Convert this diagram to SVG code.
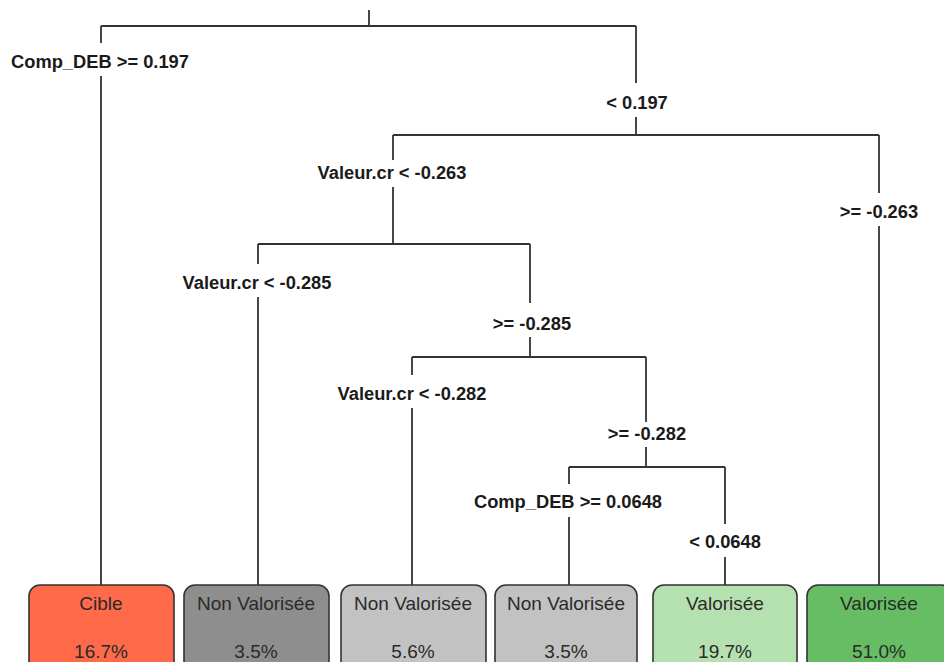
<svg xmlns="http://www.w3.org/2000/svg" width="944" height="662" viewBox="0 0 944 662">
<style>
.e{stroke:#333;stroke-width:1.8;fill:none}
.lbl{font-family:"Liberation Sans",Arial,sans-serif;font-weight:bold;font-size:18.3px;fill:#1a1a1a;text-anchor:middle}
.leaf rect{stroke:#333;stroke-width:1.6}
.leaf text{font-family:"Liberation Sans",Arial,sans-serif;font-size:19px;fill:#2a2a2a;text-anchor:middle}
</style>
<rect width="944" height="662" fill="#fff"/>
<g id="connectors">
<path class="e" d="M369 10V26M101 26H636"/>
<path class="e" d="M101 26V43M101 76V585"/>
<path class="e" d="M636 26V83M636 117V135M393 135H879"/>
<path class="e" d="M879 135V193M879 226V585"/>
<path class="e" d="M393 135V160M393 187V244M258 244H530"/>
<path class="e" d="M258 244V264M258 297V585"/>
<path class="e" d="M530 244V303M530 337V357M412 357H646"/>
<path class="e" d="M412 357V375M412 408V585"/>
<path class="e" d="M646 357V422M646 447V467M569 467H725"/>
<path class="e" d="M569 467V484M569 517V585"/>
<path class="e" d="M725 467V524M725 557V585"/>
</g>
<g id="labels">
<text class="lbl" x="100" y="68">Comp_DEB &gt;= 0.197</text>
<text class="lbl" x="637" y="109">&lt; 0.197</text>
<text class="lbl" x="392" y="179">Valeur.cr &lt; -0.263</text>
<text class="lbl" x="879" y="218">&gt;= -0.263</text>
<text class="lbl" x="257" y="289">Valeur.cr &lt; -0.285</text>
<text class="lbl" x="532" y="330">&gt;= -0.285</text>
<text class="lbl" x="412" y="400">Valeur.cr &lt; -0.282</text>
<text class="lbl" x="647" y="440">&gt;= -0.282</text>
<text class="lbl" x="568" y="508">Comp_DEB &gt;= 0.0648</text>
<text class="lbl" x="725" y="548">&lt; 0.0648</text>
</g>
<g id="leaf1" class="leaf"><rect x="29" y="585" width="145" height="95" rx="11" fill="#FF6A4B"/><text x="101" y="610">Cible</text><text x="101" y="658">16.7%</text></g>
<g id="leaf2" class="leaf"><rect x="184" y="585" width="145" height="95" rx="11" fill="#8E8E8E"/><text x="256" y="610">Non Valorisée</text><text x="256" y="658">3.5%</text></g>
<g id="leaf3" class="leaf"><rect x="341" y="585" width="145" height="95" rx="11" fill="#C2C2C2"/><text x="413" y="610">Non Valorisée</text><text x="413" y="658">5.6%</text></g>
<g id="leaf4" class="leaf"><rect x="495" y="585" width="142" height="95" rx="11" fill="#C2C2C2"/><text x="566" y="610">Non Valorisée</text><text x="566" y="658">3.5%</text></g>
<g id="leaf5" class="leaf"><rect x="653" y="585" width="144" height="95" rx="11" fill="#B5E1B0"/><text x="725" y="610">Valorisée</text><text x="725" y="658">19.7%</text></g>
<g id="leaf6" class="leaf"><rect x="807" y="585" width="145" height="95" rx="11" fill="#66BD63"/><text x="879" y="610">Valorisée</text><text x="879" y="658">51.0%</text></g>
</svg>
